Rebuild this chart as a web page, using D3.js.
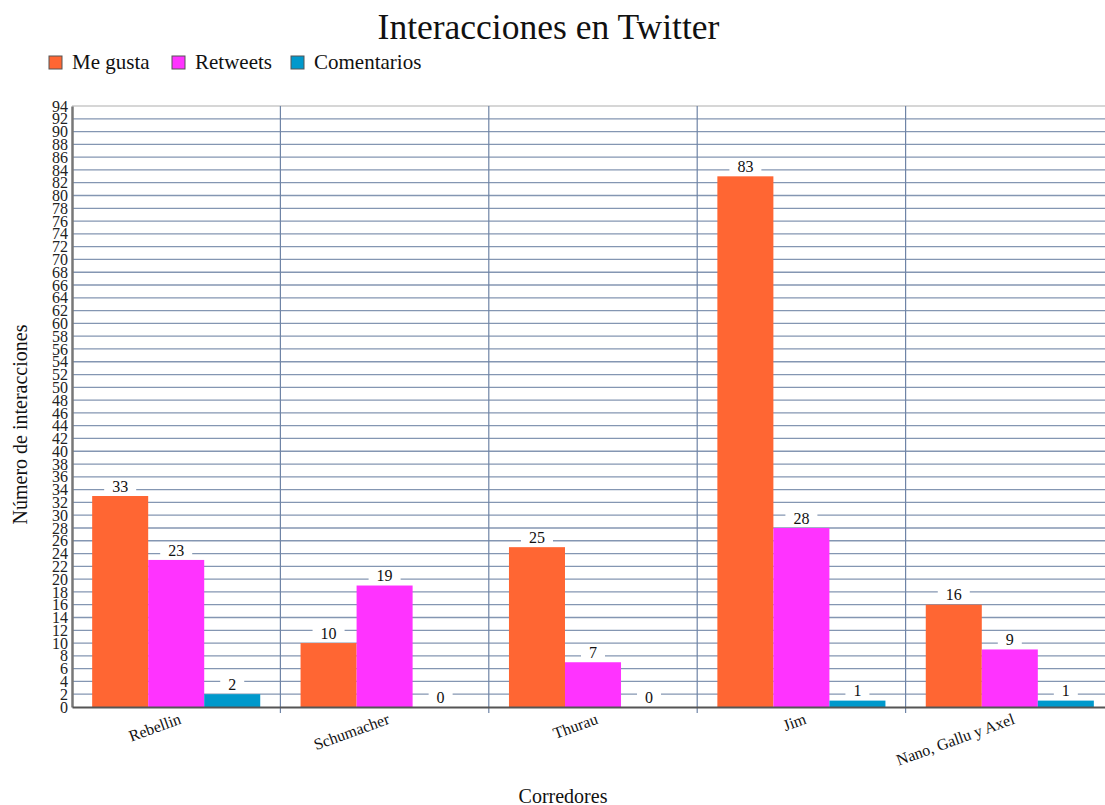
<!DOCTYPE html>
<html>
<head>
<meta charset="utf-8">
<script src="https://cdn.jsdelivr.net/npm/d3@7"></script>
<style>
  body { margin: 0; background: #fff; overflow: hidden; }
  svg { font-family: "Liberation Serif", "Times New Roman", serif; }
</style>
</head>
<body>
<div id="chart"></div>
<script>
var corredores = ['Rebellin', 'Schumacher', 'Thurau', 'Jim', 'Nano, Gallu y Axel'];
var series = ['Me gusta', 'Retweets', 'Comentarios'];
var colores = ['#ff6633', '#ff33ff', '#0099cc'];
var meGusta = [33, 10, 25, 83, 16];
var retweets = [23, 19, 7, 28, 9];
var comentarios = [2, 0, 0, 1, 1];
var yTicks = d3.range(0, 95, 2);

var W = 1105, H = 805;
var m = {t: 106, b: 98, l: 72, r: -9};

var svg = d3.select("#chart")
    .append("svg")
    .attr("width", W)
    .attr("height", H);

var x = d3.scaleBand()
    .domain(corredores)
    .range([m.l, W - m.r])
    .paddingInner(0)
    .paddingOuter(0);

var xs = d3.scaleBand()
    .domain(series)
    .range([0, x.bandwidth()])
    .paddingOuter(0.36);

var y = d3.scaleLinear()
    .domain([0, 94])
    .range([H - m.b, m.t]);

var valores = [meGusta, retweets, comentarios];

// horizontal grid
svg.append("g")
    .selectAll("line")
    .data(yTicks.slice(1))
    .enter()
    .append("line")
    .attr("x1", m.l)
    .attr("x2", W)
    .attr("y1", d => y(d))
    .attr("y2", d => y(d))
    .style("stroke", d => d == 94 ? "#c8c8c8" : "#8496b2")
    .style("stroke-width", 1.3);

// vertical separators between categories
svg.append("g")
    .selectAll("line")
    .data(corredores.slice(1))
    .enter()
    .append("line")
    .attr("x1", d => x(d))
    .attr("x2", d => x(d))
    .attr("y1", m.t)
    .attr("y2", y(0) + 6)
    .style("stroke", "#6f84a6")
    .style("stroke-width", 1.2);

// bars
var grupos = svg.append("g")
    .selectAll("g")
    .data(corredores)
    .enter()
    .append("g")
    .attr("transform", d => "translate(" + x(d) + ",0)");

grupos.selectAll("rect")
    .data((d, i) => series.map((s, j) => ({s: s, v: valores[j][i], c: colores[j]})))
    .enter()
    .append("rect")
    .attr("x", d => xs(d.s))
    .attr("y", d => y(d.v))
    .attr("width", xs.bandwidth())
    .attr("height", d => y(0) - y(d.v))
    .style("fill", d => d.c);

// value labels with white background
var etiquetas = grupos.selectAll("g.lbl")
    .data((d, i) => series.map((s, j) => ({s: s, v: valores[j][i]})))
    .enter()
    .append("g")
    .attr("class", "lbl")
    .attr("transform", d => "translate(" + (xs(d.s) + xs.bandwidth() / 2) + "," + (y(d.v) - 10) + ")");

etiquetas.append("rect")
    .attr("x", d => -(String(d.v).length * 4 + 8))
    .attr("y", -8)
    .attr("width", d => String(d.v).length * 8 + 16)
    .attr("height", 16)
    .style("fill", "white");

etiquetas.append("text")
    .attr("text-anchor", "middle")
    .attr("dy", "0.35em")
    .attr("font-size", "16px")
    .attr("fill", "#111")
    .text(d => d.v);

// y axis
var yAxis = svg.append("g")
    .attr("transform", "translate(" + m.l + ",0)")
    .call(d3.axisLeft(y).tickValues(yTicks).tickSize(0).tickPadding(4));
yAxis.select(".domain").style("stroke", "#777").style("stroke-width", 2.5);
yAxis.selectAll(".tick text")
    .attr("font-size", "16px")
    .attr("fill", "#222")
    .attr("font-family", "Liberation Serif, serif");

// x axis
var xAxis = svg.append("g")
    .attr("transform", "translate(0," + y(0) + ")")
    .call(d3.axisBottom(x).tickSize(0).tickPadding(0));
xAxis.select(".domain").style("stroke", "#555").style("stroke-width", 2);
xAxis.selectAll(".tick text")
    .attr("font-size", "16px")
    .attr("fill", "#111")
    .attr("font-family", "Liberation Serif, serif")
    .attr("text-anchor", "end")
    .attr("transform", "translate(4,11) rotate(-20)")
    .attr("dy", "0.35em");

// titles
svg.append("text")
    .attr("x", W / 2 - 4)
    .attr("y", 39)
    .attr("text-anchor", "middle")
    .attr("font-size", "35.5px")
    .attr("fill", "#111")
    .text("Interacciones en Twitter");

svg.append("text")
    .attr("transform", "translate(27," + ((m.t + y(0)) / 2 + 18) + ") rotate(-90)")
    .attr("text-anchor", "middle")
    .attr("font-size", "20px")
    .attr("fill", "#111")
    .text("Número de interacciones");

svg.append("text")
    .attr("x", 563)
    .attr("y", 803)
    .attr("text-anchor", "middle")
    .attr("font-size", "20px")
    .attr("fill", "#111")
    .text("Corredores");

// legend
var legX = [49, 172, 291];
var leyenda = svg.append("g")
    .selectAll("g")
    .data(series)
    .enter()
    .append("g")
    .attr("transform", (d, i) => "translate(" + legX[i] + ",56)");

leyenda.append("rect")
    .attr("width", 13)
    .attr("height", 13)
    .style("fill", (d, i) => colores[i])
    .style("stroke", "#555")
    .style("stroke-width", 1);

leyenda.append("text")
    .attr("x", 23)
    .attr("y", 13)
    .attr("font-size", "21px")
    .attr("fill", "#111")
    .text(d => d);
</script>
</body>
</html>
